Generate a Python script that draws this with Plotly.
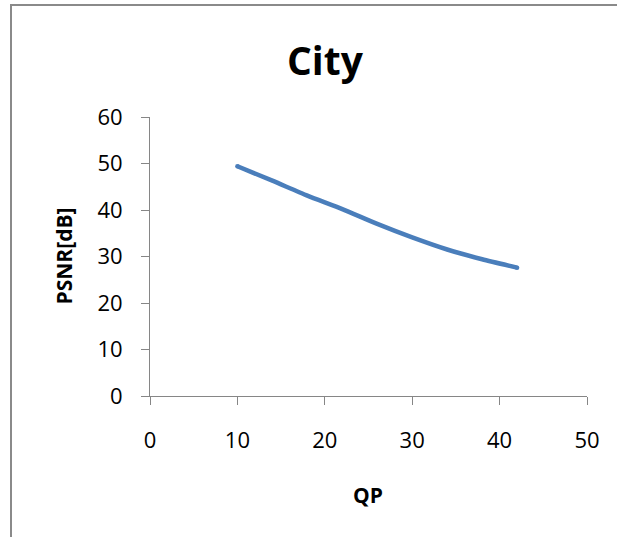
import plotly.graph_objects as go

# Data
qp = [10, 14, 18, 22, 26, 30, 34, 38, 42]
psnr = [49.4, 46.3, 43.1, 40.2, 37.0, 34.1, 31.5, 29.4, 27.6]
x_ticks = [0, 10, 20, 30, 40, 50]
y_ticks = [0, 10, 20, 30, 40, 50, 60]
title_text = "City"
x_title = "QP"
y_title = "PSNR[dB]"

W, H = 617, 537
L, R, T, B = 150, 30, 117, 141
pw = W - L - R
ph = H - T - B

FONT = "Open Sans"
AX = "#868686"
LINE = "#4A7EBB"

fig = go.Figure()
fig.add_trace(go.Scatter(
    x=qp, y=psnr, mode="lines",
    line=dict(color=LINE, width=4.5, shape="spline", smoothing=0.6),
    showlegend=False, hoverinfo="skip",
))
# round caps at line ends
fig.add_trace(go.Scatter(
    x=[qp[0], qp[-1]], y=[psnr[0], psnr[-1]], mode="markers",
    marker=dict(color=LINE, size=4.5, line=dict(width=0)),
    showlegend=False, hoverinfo="skip",
))

axis_common = dict(
    showgrid=False, zeroline=False, showline=True, linecolor=AX, linewidth=1,
    ticks="outside", ticklen=8, tickcolor=AX, tickwidth=1,
    tickfont=dict(family=FONT, size=22, color="#000000"),
)
fig.update_xaxes(range=[0, 50], tickvals=x_ticks, ticktext=[str(v) for v in x_ticks],
                 ticklabelstandoff=17, **axis_common)
fig.update_yaxes(range=[0, 60], tickvals=y_ticks, ticktext=[str(v) for v in y_ticks],
                 ticklabelstandoff=14, **axis_common)

def px_to_paper_x(px):
    return (px - L) / pw

def px_to_paper_y(py):
    return (H - B - py) / ph

# outer chart border: only top and left edges are visible in the picture
fig.add_shape(type="path", xref="paper", yref="paper",
              path=(f"M {px_to_paper_x(11)},{px_to_paper_y(537)} "
                    f"L {px_to_paper_x(11)},{px_to_paper_y(5)} "
                    f"L {px_to_paper_x(617)},{px_to_paper_y(5)}"),
              line=dict(color="#8a8a8a", width=2), layer="below")

fig.add_annotation(text=f"<b>{title_text}</b>", xref="paper", yref="paper",
                   x=px_to_paper_x(325), y=px_to_paper_y(60), xanchor="center", yanchor="middle",
                   showarrow=False, font=dict(family=FONT, size=39, color="#000000"))
fig.add_annotation(text=f"<b>{x_title}</b>", xref="paper", yref="paper",
                   x=px_to_paper_x(368), y=px_to_paper_y(495), xanchor="center", yanchor="middle",
                   showarrow=False, font=dict(family=FONT, size=21, color="#000000"))
fig.add_annotation(text=f"<b>{y_title}</b>", xref="paper", yref="paper",
                   x=px_to_paper_x(63), y=px_to_paper_y(256.5), xanchor="center", yanchor="middle",
                   textangle=-90, showarrow=False, font=dict(family=FONT, size=21, color="#000000"))

fig.update_layout(
    width=W, height=H,
    margin=dict(l=L, r=R, t=T, b=B),
    paper_bgcolor="white", plot_bgcolor="white",
)

fig.write_html("out.html")
